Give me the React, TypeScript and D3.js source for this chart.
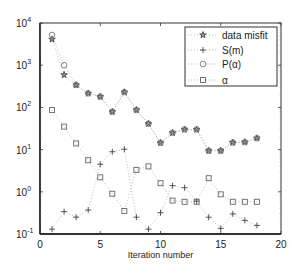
import React from 'react';
import * as d3 from 'd3';

const iterations = [1, 2, 3, 4, 5, 6, 7, 8, 9, 10, 11, 12, 13, 14, 15, 16, 17, 18];
const dataMisfit = [4100, 590, 340, 215, 180, 79, 230, 87, 41, 14.5, 25, 30, 30, 9.4, 9.4, 14.7, 15, 18.6];
const sm = [0.13, 0.34, 0.25, 0.37, 4.5, 8.9, 10.2, 0.25, 0.13, 0.32, 1.4, 1.25, 0.6, 0.25, 0.136, 0.3, 0.21, 0.16];
const pAlpha = [5200, 1000, 340, 215, 180, 79, 230, 87, 41, 14.5, 25, 30, 30, 9.4, 9.4, 14.7, 15, 18.6];
const alpha = [87, 35, 14, 5.6, 2.2, 0.9, 0.35, 3.3, 4.0, 1.6, 0.62, 0.58, 0.58, 2.1, 0.87, 0.58, 0.58, 0.58];
const xTicks = [0, 5, 10, 15, 20];
const yExps = [-1, 0, 1, 2, 3, 4];
const legendLabels = ['data misfit', 'S(m)', 'P(α)', 'α'];

const W = 291;
const H = 265;
const margin = { top: 23, right: 10, bottom: 31, left: 40 };

const x = d3.scaleLinear().domain([0, 20]).range([margin.left, W - margin.right]);
const y = d3.scaleLog().domain([0.1, 10000]).range([H - margin.bottom, margin.top]);

const ink = '#333';
const font = 'Liberation Sans, Arial, sans-serif';

const Marker = ({ kind, cx, cy }: { kind: string; cx: number; cy: number }) => {
  if (kind === 'star') {
    const p = d3.symbol().type(d3.symbolStar).size(13)();
    return <path d={p!} transform={`translate(${cx},${cy})`} fill="#999" stroke="#444" strokeWidth={0.9} />;
  }
  if (kind === 'plus') {
    return (
      <g stroke="#444" strokeWidth={0.9}>
        <line x1={cx - 3} x2={cx + 3} y1={cy} y2={cy} />
        <line x1={cx} x2={cx} y1={cy - 3} y2={cy + 3} />
      </g>
    );
  }
  if (kind === 'circle') {
    return <circle cx={cx} cy={cy} r={2.8} fill="none" stroke="#777" strokeWidth={0.9} />;
  }
  return <rect x={cx - 2.5} y={cy - 2.5} width={5} height={5} fill="none" stroke="#666" strokeWidth={0.9} />;
};

const series = [
  { values: dataMisfit, kind: 'star' },
  { values: sm, kind: 'plus' },
  { values: pAlpha, kind: 'circle' },
  { values: alpha, kind: 'square' },
];

const App = () => {
  const line = d3.line<number>()
    .x((_, i) => x(iterations[i]))
    .y(d => y(d));

  const minorTicks: number[] = [];
  for (let e = -1; e < 4; e++) {
    for (let k = 2; k <= 9; k++) minorTicks.push(k * Math.pow(10, e));
  }

  const x0 = margin.left;
  const x1 = W - margin.right;
  const y0 = H - margin.bottom;
  const y1 = margin.top;

  const legX = 185;
  const legY = 27;
  const legW = 92;
  const legH = 59;
  const rowYs = [35, 50, 64, 80];

  return (
    <svg width={W} height={H} style={{ position: 'absolute', left: 0, top: 0, background: '#fff' }} fontFamily={font}>
      {series.map((s, si) => (
        <path key={si} d={line(s.values)!} fill="none" stroke="#aaa" strokeWidth={0.8} strokeDasharray="1,2" />
      ))}
      {series.map((s, si) =>
        s.values.map((v, i) => <Marker key={si + '-' + i} kind={s.kind} cx={x(iterations[i])} cy={y(v)} />)
      )}

      {/* axes box */}
      <rect x={x0} y={y1} width={x1 - x0} height={y0 - y1} fill="none" stroke={ink} strokeWidth={1} />
      <line x1={x0} x2={x0} y1={y1} y2={y0} stroke={ink} strokeWidth={1.8} />
      <line x1={x0} x2={x1} y1={y0} y2={y0} stroke={ink} strokeWidth={1.8} />

      {xTicks.map(t => (
        <g key={t}>
          <line x1={x(t)} x2={x(t)} y1={y0} y2={y0 - 3} stroke={ink} strokeWidth={0.8} />
          <line x1={x(t)} x2={x(t)} y1={y1} y2={y1 + 3} stroke={ink} strokeWidth={0.8} />
          <text x={x(t)} y={y0 + 14} textAnchor="middle" fontSize={10} fill="#222">{t}</text>
        </g>
      ))}

      {yExps.map(e => (
        <g key={e}>
          <line x1={x0} x2={x0 + 3} y1={y(Math.pow(10, e))} y2={y(Math.pow(10, e))} stroke={ink} strokeWidth={0.8} />
          <line x1={x1} x2={x1 - 3} y1={y(Math.pow(10, e))} y2={y(Math.pow(10, e))} stroke={ink} strokeWidth={0.8} />
          <text x={x0 - 24} y={y(Math.pow(10, e)) + 4} fontSize={10} fill="#222">
            10<tspan dy={-5} fontSize={7}>{e}</tspan>
          </text>
        </g>
      ))}
      {minorTicks.map((t, i) => (
        <g key={i}>
          <line x1={x0} x2={x0 + 1.5} y1={y(t)} y2={y(t)} stroke="#888" strokeWidth={0.5} />
          <line x1={x1} x2={x1 - 1.5} y1={y(t)} y2={y(t)} stroke="#888" strokeWidth={0.5} />
        </g>
      ))}

      <text x={(x0 + x1) / 2} y={H - 7} textAnchor="middle" fontSize={9} fill="#222">Iteration number</text>

      {/* legend */}
      <rect x={legX} y={legY} width={legW} height={legH} fill="#fff" stroke={ink} strokeWidth={1} />
      {series.map((s, i) => (
        <g key={i}>
          <line x1={legX + 3} x2={legX + 31} y1={rowYs[i]} y2={rowYs[i]} stroke="#aaa" strokeWidth={0.8} strokeDasharray="1,2" />
          <Marker kind={s.kind} cx={legX + 18} cy={rowYs[i]} />
          <text x={legX + 37} y={rowYs[i] + 3.5} fontSize={10} fill="#222">{legendLabels[i]}</text>
        </g>
      ))}
    </svg>
  );
};

export default App;
